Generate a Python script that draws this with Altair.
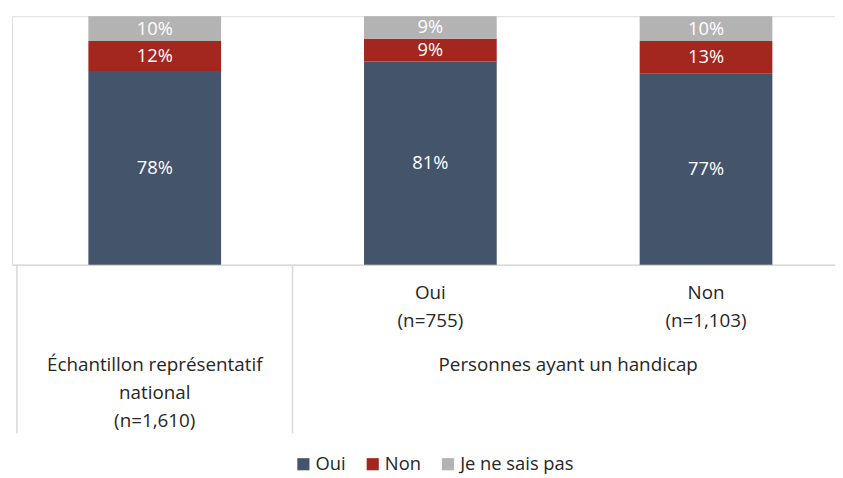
import altair as alt
import pandas as pd

# ---- data ----
responses = ["Oui", "Non", "Je ne sais pas"]
colors = ["#44546A", "#A3261F", "#B3B3B3"]
oui = [78, 81, 77]
non = [12, 9, 13]
nsp = [10, 9, 10]
level1 = ["", "Oui\n(n=755)", "Non\n(n=1,103)"]
level2 = ["Échantillon représentatif\nnational\n(n=1,610)", "Personnes ayant un handicap"]
level2_members = [0, 1, 1]  # which level-2 group each bar belongs to

FONT = "Open Sans"
TXT = "#262626"
LINE = "#D9D9D9"

rows = []
for i in range(len(level1)):
    for k, (r, vals) in enumerate(zip(responses, [oui, non, nsp])):
        rows.append({"idx": i, "response": r, "order": k, "value": vals[i],
                     "label": f"{vals[i]}%"})
df_bars = pd.DataFrame(rows)

df_l1 = pd.DataFrame([{"idx": i, "label": t} for i, t in enumerate(level1) if t])

l2_rows, sep_rows = [], []
for g, name in enumerate(level2):
    mem = [i for i, m in enumerate(level2_members) if m == g]
    l2_rows.append({"center": sum(mem) / len(mem), "label": name})
    sep_rows.append({"x": min(mem) - 0.5})
df_l2 = pd.DataFrame(l2_rows)
df_sep = pd.DataFrame(sep_rows)

xscale = alt.Scale(domain=[-0.5, 2.45], nice=False, zero=False)
yscale = alt.Scale(domain=[0, 1], nice=False)

base = alt.Chart(df_bars).transform_stack(
    stack="value", groupby=["idx"], as_=["y0", "y1"], offset="normalize",
    sort=[alt.SortField("order", order="ascending")]
).transform_calculate(mid="(datum.y0 + datum.y1) / 2")

bars = base.mark_bar(size=134).encode(
    x=alt.X("idx:Q", scale=xscale,
            axis=alt.Axis(labels=False, ticks=False, title=None, grid=False,
                          domainColor=LINE, domainWidth=1.5)),
    y=alt.Y("y0:Q", scale=yscale, axis=None),
    y2="y1:Q",
    color=alt.Color("response:N",
                    scale=alt.Scale(domain=responses, range=colors),
                    sort=responses,
                    legend=alt.Legend(title=None, orient="none", direction="horizontal",
                                      legendX=285, legendY=443, padding=0,
                                      symbolType="square", symbolSize=150,
                                      symbolStrokeWidth=0,
                                      labelFont=FONT, labelFontSize=18.5,
                                      labelColor=TXT, labelOffset=3,
                                      columnPadding=18)),
)

bar_labels = base.mark_text(font=FONT, fontSize=18.5, color="white", baseline="middle").encode(
    x=alt.X("idx:Q", scale=xscale),
    y=alt.Y("mid:Q", scale=yscale),
    text="label:N",
)

l1 = alt.Chart(df_l1).mark_text(font=FONT, fontSize=19, color=TXT, baseline="alphabetic",
                                lineBreak="\n", lineHeight=28).encode(
    x=alt.X("idx:Q", scale=xscale),
    y=alt.value(286),
    text="label:N",
)

l2 = alt.Chart(df_l2).mark_text(font=FONT, fontSize=19, color=TXT, baseline="alphabetic",
                                lineBreak="\n", lineHeight=28.5).encode(
    x=alt.X("center:Q", scale=xscale),
    y=alt.value(358),
    text="label:N",
)

seps = alt.Chart(df_sep).mark_rule(color=LINE, strokeWidth=1.5).encode(
    x=alt.X("x:Q", scale=xscale),
    y=alt.value(251),
    y2=alt.value(421),
)

chart = alt.layer(bars, bar_labels, l1, l2, seps).properties(
    width=831, height=251,
    autosize=alt.AutoSizeParams(type="none"),
    padding={"left": 4, "top": 6, "right": 0, "bottom": 212},
).configure_view(stroke=None).configure(background="white")

chart.save("out.html", embed_options={"renderer": "svg", "actions": False})
